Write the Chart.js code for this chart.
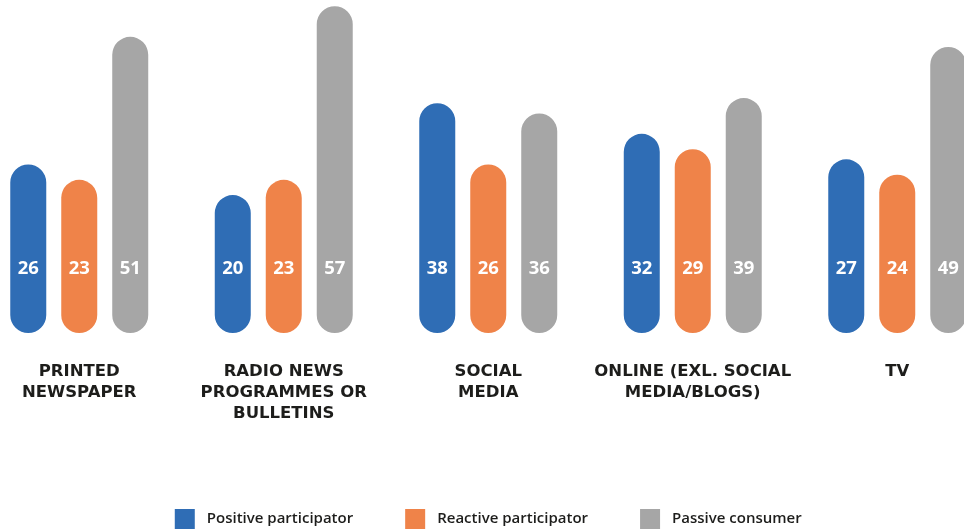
<!DOCTYPE html>
<html>
<head>
<meta charset="utf-8">
<script src="https://cdn.jsdelivr.net/npm/chart.js@4.4.1/dist/chart.umd.min.js"></script>
<style>
  html, body { margin: 0; padding: 0; background: #ffffff; overflow: hidden; width: 964px; height: 530px; }
  #wrap { position: absolute; left: -23.25px; top: 0; width: 1022.5px; height: 530px; }
</style>
</head>
<body>
<div id="wrap"><canvas id="chart"></canvas></div>
<script>
// Media categories (each inner array is one wrapped label)
const categories = [
  ['PRINTED', 'NEWSPAPER'],
  ['RADIO NEWS', 'PROGRAMMES OR', 'BULLETINS'],
  ['SOCIAL', 'MEDIA'],
  ['ONLINE (EXL. SOCIAL', 'MEDIA/BLOGS)'],
  ['TV']
];

// Share of respondents (%) per participation type
const positiveParticipator = [26, 20, 38, 32, 27];
const reactiveParticipator = [23, 23, 26, 29, 24];
const passiveConsumer      = [51, 57, 36, 39, 49];

const seriesNames = ['Positive participator', 'Reactive participator', 'Passive consumer'];
const seriesColors = ['#2F6DB5', '#EF8349', '#A6A6A6'];

// Bars are drawn as round-capped pills: the base sits a cap below zero
const CAP_BASE = -7;

const textFont = '"Open Sans", "DejaVu Sans", sans-serif';
const labelFont = '"DejaVu Sans", sans-serif';

// Draws value labels inside each pill, the wrapped category names and the legend
const annotations = {
  id: 'annotations',
  afterDatasetsDraw(chart) {
    const ctx = chart.ctx;
    const area = chart.chartArea;
    const xs = chart.scales.x;

    ctx.save();
    // values inside bars
    ctx.fillStyle = '#ffffff';
    ctx.font = `700 18.5px ${textFont}`;
    ctx.textAlign = 'center';
    ctx.textBaseline = 'middle';
    chart.data.datasets.forEach((ds, di) => {
      const meta = chart.getDatasetMeta(di);
      meta.data.forEach((el, i) => {
        ctx.fillText(String(ds.data[i]), el.x, area.bottom - 64);
      });
    });

    // category names
    ctx.fillStyle = '#1d1d1b';
    ctx.font = `700 16.5px ${labelFont}`;
    categories.forEach((lines, i) => {
      const cx = xs.getPixelForValue(i);
      lines.forEach((line, li) => {
        ctx.fillText(line, cx, area.bottom + 39 + li * 20.8);
      });
    });

    // legend
    ctx.font = `600 15px ${textFont}`;
    const box = 20, gapText = 12, gapItem = 52;
    const widths = chart.data.datasets.map(ds => box + gapText + ctx.measureText(ds.label).width);
    const total = widths.reduce((a, b) => a + b, 0) + gapItem * (widths.length - 1);
    let x = (area.left + area.right) / 2 - total / 2;
    const ly = 519;
    ctx.textAlign = 'left';
    chart.data.datasets.forEach((ds, di) => {
      ctx.fillStyle = ds.backgroundColor;
      ctx.fillRect(x, ly - box / 2, box, box);
      ctx.fillStyle = '#1d1d1b';
      ctx.fillText(ds.label, x + box + gapText, ly);
      x += widths[di] + gapItem;
    });
    ctx.restore();
  }
};

const seriesData = [positiveParticipator, reactiveParticipator, passiveConsumer];

new Chart(document.getElementById('chart'), {
  type: 'bar',
  data: {
    labels: categories.map(c => c.join(' ')),
    datasets: seriesData.map((values, i) => ({
      label: seriesNames[i],
      data: values,
      backgroundColor: seriesColors[i],
      base: CAP_BASE,
      borderRadius: 18,
      borderSkipped: false,
      categoryPercentage: 0.748,
      barPercentage: 0.706
    }))
  },
  options: {
    responsive: true,
    maintainAspectRatio: false,
    animation: false,
    layout: { padding: { top: 0, bottom: 197, left: 0, right: 0 } },
    scales: {
      x: { display: false, offset: true, grid: { display: false } },
      y: { display: false, min: CAP_BASE, max: 58.2 }
    },
    plugins: {
      legend: { display: false },
      tooltip: { enabled: false }
    }
  },
  plugins: [annotations]
});
</script>
</body>
</html>
